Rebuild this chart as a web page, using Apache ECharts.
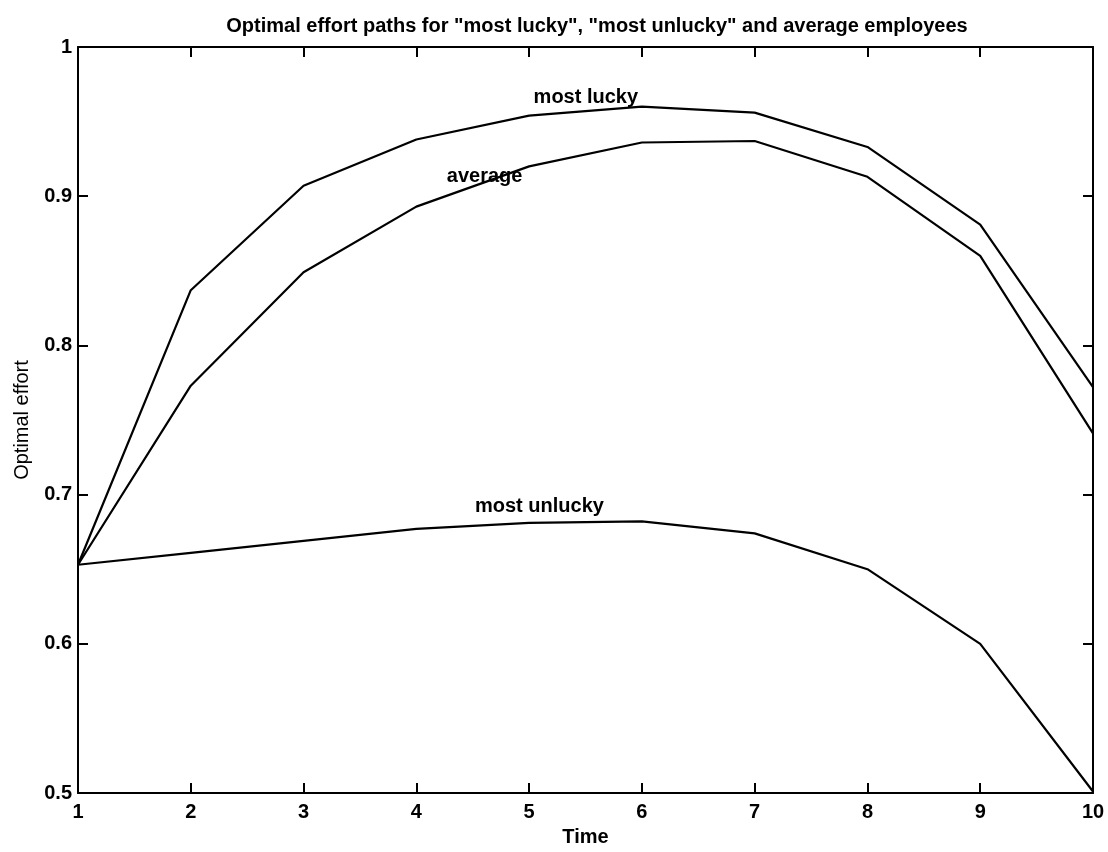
<!DOCTYPE html>
<html>
<head>
<meta charset="utf-8">
<script src="https://cdn.jsdelivr.net/npm/echarts@6/dist/echarts.min.js"></script>
<style>
html,body{margin:0;padding:0;background:#fff;}
#chart{width:1108px;height:852px;}
</style>
</head>
<body>
<div id="chart"></div>
<script>
// Data
const time = [1, 2, 3, 4, 5, 6, 7, 8, 9, 10];
const mostLucky   = [0.653, 0.837, 0.907, 0.938, 0.954, 0.960, 0.956, 0.933, 0.881, 0.772];
const average     = [0.653, 0.773, 0.849, 0.893, 0.920, 0.936, 0.937, 0.913, 0.860, 0.741];
const mostUnlucky = [0.653, 0.661, 0.669, 0.677, 0.681, 0.682, 0.674, 0.650, 0.600, 0.501];
const xTicks = [1, 2, 3, 4, 5, 6, 7, 8, 9, 10];
const yTicks = [0.5, 0.6, 0.7, 0.8, 0.9, 1];
// in-plot text annotations: [x, y, text]
const annotations = [
  [5.04, 0.966, 'most lucky'],
  [4.27, 0.913, 'average'],
  [4.52, 0.692, 'most unlucky']
];

const FONT = 'Liberation Sans, Arial, Helvetica, sans-serif';
const FS = 20;
const chart = echarts.init(document.getElementById('chart'), null, {renderer: 'canvas'});

function pairs(ys) { return time.map((t, i) => [t, ys[i]]); }
const lineStyle = {color: '#000', width: 2.2};
const fmtY = v => String(+v.toFixed(1));

const axisCommon = {
  type: 'value',
  axisLine: {show: true, onZero: false, lineStyle: {color: '#000', width: 2}},
  axisTick: {show: true, inside: true, length: 10, lineStyle: {color: '#000', width: 2}},
  splitLine: {show: false}
};

const option = {
  backgroundColor: '#fff',
  animation: false,
  title: {
    text: 'Optimal effort paths for "most lucky", "most unlucky" and average employees',
    left: 592, top: 11, textAlign: 'center',
    textStyle: {fontFamily: FONT, fontSize: FS, fontWeight: 'bold', color: '#000'}
  },
  grid: {left: 78, right: 15, top: 47, bottom: 53, containLabel: false},
  xAxis: [
    Object.assign({}, axisCommon, {
      min: xTicks[0], max: xTicks[xTicks.length - 1], interval: 1,
      position: 'bottom',
      name: 'Time', nameLocation: 'middle', nameGap: 34,
      nameTextStyle: {fontFamily: FONT, fontSize: FS, fontWeight: 'bold', color: '#000'},
      axisLabel: {fontFamily: FONT, fontSize: FS, fontWeight: 'bold', color: '#000', margin: 9}
    }),
    Object.assign({}, axisCommon, {
      min: xTicks[0], max: xTicks[xTicks.length - 1], interval: 1,
      position: 'top', axisLabel: {show: false}
    })
  ],
  yAxis: [
    Object.assign({}, axisCommon, {
      min: yTicks[0], max: yTicks[yTicks.length - 1], interval: 0.1,
      position: 'left',
      name: 'Optimal effort', nameLocation: 'middle', nameGap: 46,
      nameTextStyle: {fontFamily: FONT, fontSize: FS, color: '#000'},
      axisLabel: {fontFamily: FONT, fontSize: FS, fontWeight: 'bold', color: '#000', margin: 6, formatter: fmtY}
    }),
    Object.assign({}, axisCommon, {
      min: yTicks[0], max: yTicks[yTicks.length - 1], interval: 0.1,
      position: 'right', axisLabel: {show: false}
    })
  ],
  series: [
    {name: 'most lucky', type: 'line', data: pairs(mostLucky), showSymbol: false, lineStyle: lineStyle, z: 3},
    {name: 'average', type: 'line', data: pairs(average), showSymbol: false, lineStyle: lineStyle, z: 3},
    {name: 'most unlucky', type: 'line', data: pairs(mostUnlucky), showSymbol: false, lineStyle: lineStyle, z: 3},
    {
      type: 'scatter', symbolSize: 0, silent: true, z: 5,
      data: annotations.map(a => ({value: [a[0], a[1]], name: a[2]})),
      label: {
        show: true, position: 'right', distance: 0,
        formatter: p => p.name,
        fontFamily: FONT, fontSize: FS, fontWeight: 'bold', color: '#000', opacity: 1
      }
    }
  ]
};
chart.setOption(option);
</script>
</body>
</html>
